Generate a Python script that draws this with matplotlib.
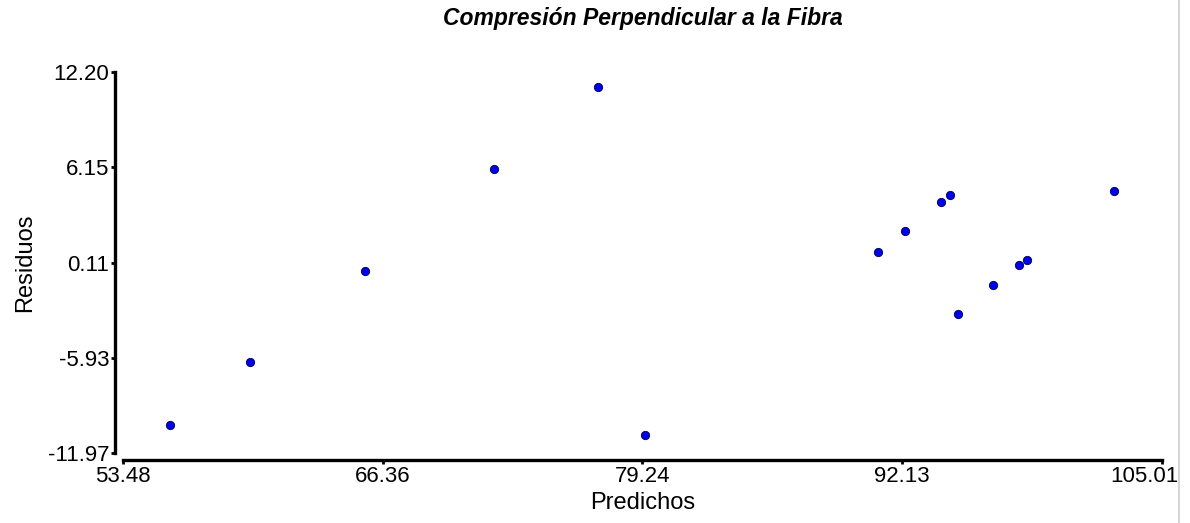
import matplotlib
matplotlib.use("Agg")
import matplotlib.pyplot as plt
from matplotlib.transforms import ScaledTranslation
from matplotlib.lines import Line2D

predichos = [55.81, 59.78, 65.48, 71.88, 77.04, 79.37, 90.93, 92.27, 94.05, 94.50,
             94.90, 96.63, 97.92, 98.32, 102.64]
residuos = [-10.20, -6.20, -0.43, 6.05, 11.25, -10.83, 0.78, 2.11, 3.95, 4.40,
            -3.16, -1.32, -0.05, 0.27, 4.65]
x_ticks = [53.48, 66.36, 79.24, 92.13, 105.01]
y_ticks = [-11.97, -5.93, 0.11, 6.15, 12.20]

plt.rcParams['font.family'] = ['Liberation Sans', 'DejaVu Sans']

fig = plt.figure(figsize=(11.9, 5.23), dpi=100)
ax = fig.add_axes([0.1034, 0.1338, 0.873, 0.7285])

ax.scatter(predichos, residuos, s=36, color='#0000f0', edgecolors='#000040',
           linewidths=0.6, zorder=3)

ax.set_xlim(x_ticks[0], x_ticks[-1])
ax.set_ylim(y_ticks[0], y_ticks[-1])
ax.set_xticks(x_ticks)
ax.set_xticklabels([f"{v:.2f}" for v in x_ticks])
ax.set_yticks(y_ticks)
ax.set_yticklabels([f"{v:.2f}" for v in y_ticks])

for s in ['top', 'right']:
    ax.spines[s].set_visible(False)
ax.spines['left'].set_position(('outward', 6))
ax.spines['bottom'].set_position(('outward', 5))
ax.spines['left'].set_linewidth(2.4)
ax.spines['bottom'].set_linewidth(2.4)
ax.tick_params(axis='both', direction='out', length=3, width=2, labelsize=16,
               pad=1, colors='black')

# last x tick label is shifted left to stay inside the picture
last = ax.get_xticklabels()[-1]
last.set_transform(last.get_transform() + ScaledTranslation(-0.18, 0, fig.dpi_scale_trans))

ax.set_xlabel('Predichos', fontsize=17, labelpad=4)
ax.set_ylabel('Residuos', fontsize=17, labelpad=8)
ax.set_title('Compresión Perpendicular a la Fibra', fontsize=16.5,
             fontweight='bold', fontstyle='italic', pad=34)

fig.add_artist(Line2D([1179 / 1190, 1179 / 1190], [0, 1], transform=fig.transFigure,
                      color='#d0d0d0', linewidth=1.2))

fig.savefig('out.png', dpi=100)
